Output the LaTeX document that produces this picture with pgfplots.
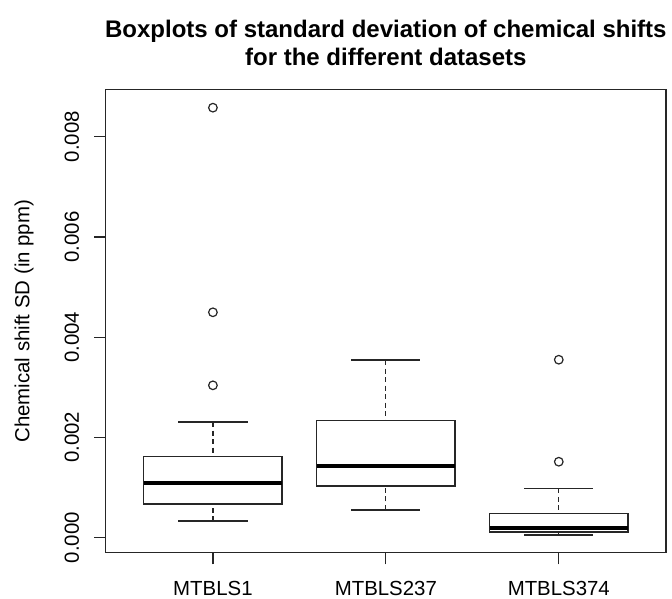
\documentclass[border=0pt]{standalone}
\usepackage{pgfplots}
\pgfplotsset{compat=1.18}
\usepgfplotslibrary{statistics}
\usepackage{fontspec}
\setmainfont{Liberation Sans}

% All values below are chemical shift SDs in units of 0.001 ppm.
\begin{document}
\begin{tikzpicture}
\path[use as bounding box] (-52.85pt,-22.65pt) rectangle (283.15pt,276.35pt);
\begin{axis}[
  at={(0,0)}, anchor=south west,
  scale only axis,
  width=280.15pt, height=231.5pt,
  xmin=0.38, xmax=3.62,
  ymin=-0.299, ymax=8.938,
  axis line style={line width=0.6pt, black!85},
  tick align=outside,
  tick style={line width=0.6pt, black!85},
  major tick length=5.85pt,
  xtick pos=bottom, ytick pos=left,
  xtick={1,2,3},
  xticklabels={MTBLS1,MTBLS237,MTBLS374},
  ytick={0,2,4,6,8},
  yticklabels={0.000,0.002,0.004,0.006,0.008},
  tick label style={font=\fontsize{10.2}{12}\selectfont},
  yticklabel style={rotate=90, anchor=south, inner ysep=7.3pt},
  xticklabel style={anchor=north, inner ysep=8pt},
  ylabel={Chemical shift SD (in ppm)},
  ylabel style={at={(axis description cs:-0.1458,0.5)}, anchor=center,
    font=\fontsize{10.2}{12}\selectfont},
  title={Boxplots of standard deviation of chemical shifts\\for the different datasets},
  title style={at={(axis description cs:0.5,1.0253)}, anchor=south,
    inner sep=0pt, align=center,
    font=\fontsize{12}{14}\selectfont\bfseries},
  boxplot/draw direction=y,
  boxplot/box extend=0.8,
  boxplot/whisker extend=0.4,
  boxplot/every median/.style={line width=2pt, black},
  boxplot/draw/lower whisker/.code={%
    \draw[dash pattern=on 2.5pt off 1.75pt]
      (boxplot box cs:\pgfplotsboxplotvalue{lower whisker},0.5) --
      (boxplot box cs:\pgfplotsboxplotvalue{lower quartile},0.5);
    \draw
      (boxplot whisker cs:\pgfplotsboxplotvalue{lower whisker},0) --
      (boxplot whisker cs:\pgfplotsboxplotvalue{lower whisker},1);
  },
  boxplot/draw/upper whisker/.code={%
    \draw[dash pattern=on 2.5pt off 1.75pt]
      (boxplot box cs:\pgfplotsboxplotvalue{upper whisker},0.5) --
      (boxplot box cs:\pgfplotsboxplotvalue{upper quartile},0.5);
    \draw
      (boxplot whisker cs:\pgfplotsboxplotvalue{upper whisker},0) --
      (boxplot whisker cs:\pgfplotsboxplotvalue{upper whisker},1);
  },
]

% MTBLS1
\addplot[black!85, line width=0.6pt, boxplot prepared={
  draw position=1,
  lower whisker=0.333, lower quartile=0.672, median=1.091,
  upper quartile=1.616, upper whisker=2.308}] coordinates {};
% MTBLS237
\addplot[black!85, line width=0.6pt, boxplot prepared={
  draw position=2,
  lower whisker=0.553, lower quartile=1.031, median=1.436,
  upper quartile=2.342, upper whisker=3.545}] coordinates {};
% MTBLS374
\addplot[black!85, line width=0.6pt, boxplot prepared={
  draw position=3,
  lower whisker=0.054, lower quartile=0.114, median=0.200,
  upper quartile=0.479, upper whisker=0.985}] coordinates {};

% outlying values
\addplot[only marks, mark=o, mark size=2.15pt, mark options={line width=0.6pt, black!85}]
  coordinates {(1,8.579) (1,4.497) (1,3.040) (3,3.551) (3,1.516)};
\end{axis}
\end{tikzpicture}
\end{document}
